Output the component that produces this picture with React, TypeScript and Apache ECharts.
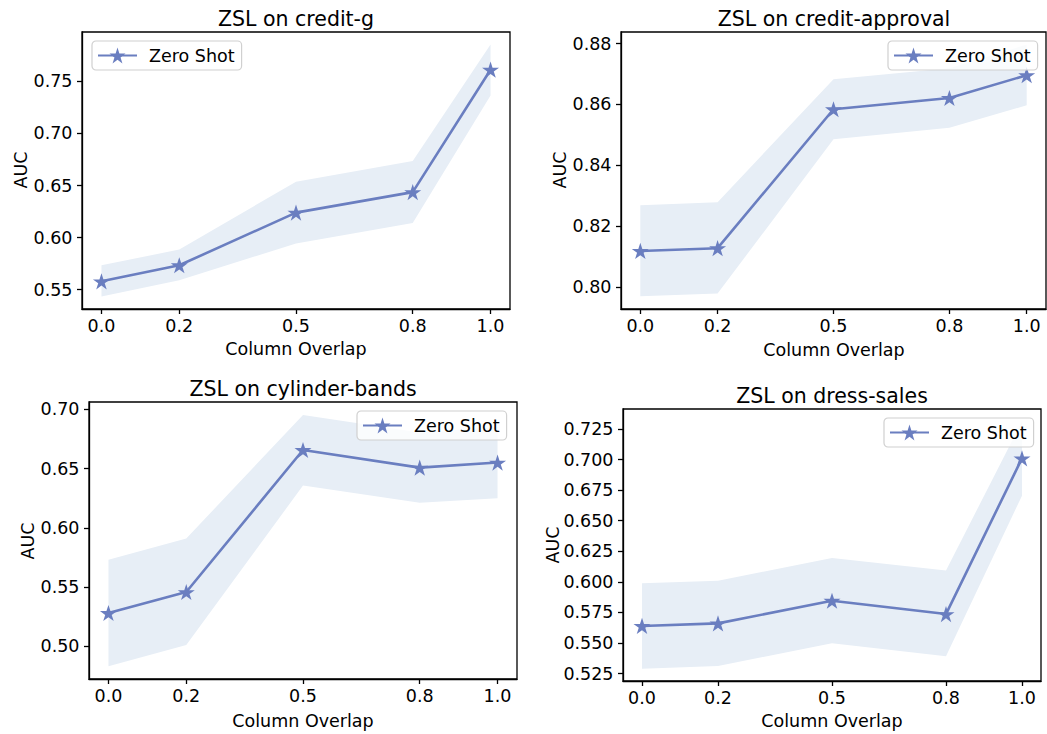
import React, { useEffect, useRef } from "react";
import * as echarts from "echarts";

// ---------- data ----------
const X_VALUES = [0.0, 0.2, 0.5, 0.8, 1.0];
const X_TICKS = [0.0, 0.2, 0.5, 0.8, 1.0];
const SERIES_NAME = "Zero Shot";
const X_LABEL = "Column Overlap";
const Y_LABEL = "AUC";
const TITLES = [
  "ZSL on credit-g",
  "ZSL on credit-approval",
  "ZSL on cylinder-bands",
  "ZSL on dress-sales",
];

const CREDIT_G_MEAN = [0.558, 0.5734, 0.624, 0.6437, 0.7613];
const CREDIT_G_LOWER = [0.5435, 0.559, 0.5943, 0.6139, 0.7366];
const CREDIT_G_UPPER = [0.5734, 0.5885, 0.6537, 0.6736, 0.7854];
const CREDIT_G_Y_TICKS = [0.55, 0.6, 0.65, 0.7, 0.75];
const CREDIT_G_Y_RANGE = [0.5314, 0.7975];

const CREDIT_APPROVAL_MEAN = [0.8118, 0.8127, 0.8584, 0.8621, 0.8696];
const CREDIT_APPROVAL_LOWER = [0.7969, 0.7978, 0.8485, 0.8523, 0.8597];
const CREDIT_APPROVAL_UPPER = [0.8268, 0.8278, 0.8683, 0.8719, 0.8797];
const CREDIT_APPROVAL_Y_TICKS = [0.8, 0.82, 0.84, 0.86, 0.88];
const CREDIT_APPROVAL_Y_RANGE = [0.7927, 0.8838];

const CYLINDER_BANDS_MEAN = [0.5281, 0.5458, 0.6657, 0.6508, 0.6551];
const CYLINDER_BANDS_LOWER = [0.4831, 0.5011, 0.6357, 0.6211, 0.625];
const CYLINDER_BANDS_UPPER = [0.573, 0.591, 0.6952, 0.6805, 0.6851];
const CYLINDER_BANDS_Y_TICKS = [0.5, 0.55, 0.6, 0.65, 0.7];
const CYLINDER_BANDS_Y_RANGE = [0.4724, 0.7062];

const DRESS_SALES_MEAN = [0.564, 0.5661, 0.5846, 0.5737, 0.701];
const DRESS_SALES_LOWER = [0.5291, 0.5313, 0.5498, 0.5392, 0.6705];
const DRESS_SALES_UPPER = [0.5988, 0.601, 0.6196, 0.6093, 0.7312];
const DRESS_SALES_Y_TICKS = [0.525, 0.55, 0.575, 0.6, 0.625, 0.65, 0.675, 0.7, 0.725];
const DRESS_SALES_Y_RANGE = [0.519, 0.7413];

const PANELS = [
  { mean: CREDIT_G_MEAN, lower: CREDIT_G_LOWER, upper: CREDIT_G_UPPER, yTicks: CREDIT_G_Y_TICKS, yRange: CREDIT_G_Y_RANGE, decimals: 2 },
  { mean: CREDIT_APPROVAL_MEAN, lower: CREDIT_APPROVAL_LOWER, upper: CREDIT_APPROVAL_UPPER, yTicks: CREDIT_APPROVAL_Y_TICKS, yRange: CREDIT_APPROVAL_Y_RANGE, decimals: 2 },
  { mean: CYLINDER_BANDS_MEAN, lower: CYLINDER_BANDS_LOWER, upper: CYLINDER_BANDS_UPPER, yTicks: CYLINDER_BANDS_Y_TICKS, yRange: CYLINDER_BANDS_Y_RANGE, decimals: 2 },
  { mean: DRESS_SALES_MEAN, lower: DRESS_SALES_LOWER, upper: DRESS_SALES_UPPER, yTicks: DRESS_SALES_Y_TICKS, yRange: DRESS_SALES_Y_RANGE, decimals: 3 },
];

// ---------- layout / style ----------
const LAYOUT = [
  { grid: { left: 82, top: 32, width: 428, height: 277 }, legend: { left: 92, top: 41 }, title: [296, 19], xName: [296, 348.5], yName: [21, 170] },
  { grid: { left: 621, top: 32, width: 425, height: 277 }, legend: { left: 888, top: 41 }, title: [834, 19], xName: [834, 349.5], yName: [560, 170] },
  { grid: { left: 89, top: 402, width: 428, height: 277 }, legend: { left: 357, top: 411 }, title: [303, 389], xName: [303, 720.5], yName: [28, 541] },
  { grid: { left: 623, top: 409, width: 418, height: 272 }, legend: { left: 884, top: 418 }, title: [832, 396], xName: [832, 720.5], yName: [552.5, 545] },
];

const X_RANGE = [-0.05, 1.05];
const LINE_COLOR = "#6a7ec0";
const BAND_COLOR = "#e7eef6";
const FONT = '"DejaVu Sans", "Liberation Sans", sans-serif';
const BASE_SIZE = 17.5;
const TITLE_SIZE = 20.5;
const STAR =
  "path://M0,-100L22.45,-30.9L95.11,-30.9L36.33,11.8L58.78,80.9L0,38.2L-58.78,80.9L-36.33,11.8L-95.11,-30.9L-22.45,-30.9Z";

function buildOption() {
  const grids: any[] = [];
  const xAxes: any[] = [];
  const yAxes: any[] = [];
  const series: any[] = [];
  const legends: any[] = [];
  const graphics: any[] = [];

  PANELS.forEach((p, i) => {
    const L = LAYOUT[i];
    grids.push({
      ...L.grid,
      show: true,
      borderColor: "#000",
      borderWidth: 1.3,
      backgroundColor: "transparent",
      containLabel: false,
    });
    xAxes.push({
      type: "value",
      gridIndex: i,
      min: X_RANGE[0],
      max: X_RANGE[1],
      axisLine: { show: true, onZero: false, lineStyle: { color: "#000", width: 1.3 } },
      axisTick: { show: true, inside: false, length: 5, lineStyle: { color: "#000", width: 1.3 }, customValues: X_TICKS },
      axisLabel: {
        show: true,
        margin: 8,
        color: "#000",
        fontFamily: FONT,
        fontSize: BASE_SIZE,
        customValues: X_TICKS,
        formatter: (v: number) => v.toFixed(1),
      },
      splitLine: { show: false },
    });
    yAxes.push({
      type: "value",
      gridIndex: i,
      min: p.yRange[0],
      max: p.yRange[1],
      axisLine: { show: true, onZero: false, lineStyle: { color: "#000", width: 1.3 } },
      axisTick: { show: true, inside: false, length: 5, lineStyle: { color: "#000", width: 1.3 }, customValues: p.yTicks },
      axisLabel: {
        show: true,
        margin: 9.5,
        color: "#000",
        fontFamily: FONT,
        fontSize: BASE_SIZE,
        customValues: p.yTicks,
        formatter: (v: number) => v.toFixed(p.decimals),
      },
      splitLine: { show: false },
    });

    const bandData = X_VALUES.map((x, k) => [x, p.lower[k], p.upper[k]]);
    series.push({
      type: "custom",
      name: "band" + i,
      xAxisIndex: i,
      yAxisIndex: i,
      z: 1,
      silent: true,
      encode: { x: 0, y: [1, 2] },
      data: bandData,
      renderItem: (params: any, api: any) => {
        if (params.dataIndex !== 0) return null;
        const pts: number[][] = [];
        for (let k = 0; k < X_VALUES.length; k++) pts.push(api.coord([X_VALUES[k], p.upper[k]]));
        for (let k = X_VALUES.length - 1; k >= 0; k--) pts.push(api.coord([X_VALUES[k], p.lower[k]]));
        return { type: "polygon", shape: { points: pts }, style: { fill: BAND_COLOR } };
      },
    });

    series.push({
      type: "line",
      name: SERIES_NAME,
      xAxisIndex: i,
      yAxisIndex: i,
      z: 3,
      data: X_VALUES.map((x, k) => [x, p.mean[k]]),
      symbol: STAR,
      symbolSize: 17,
      symbolKeepAspect: true,
      showSymbol: true,
      showAllSymbol: true,
      lineStyle: { color: LINE_COLOR, width: 2.6 },
      itemStyle: { color: LINE_COLOR, borderWidth: 0 },
      emphasis: { disabled: true },
    });

    legends.push({
      show: true,
      data: [SERIES_NAME],
      left: L.legend.left,
      top: L.legend.top,
      orient: "horizontal",
      itemWidth: 39,
      itemHeight: 20,
      padding: [5.5, 7, 5.5, 5],
      backgroundColor: "rgba(255,255,255,0.8)",
      borderColor: "#d0d0d0",
      borderWidth: 1.2,
      borderRadius: 4,
      selectedMode: false,
      textStyle: {
        color: "#000",
        fontFamily: FONT,
        fontSize: BASE_SIZE,
        padding: [0, 0, 0, 7],
      },
    });

    graphics.push({
      type: "text",
      x: L.title[0],
      y: L.title[1],
      style: {
        text: TITLES[i],
        fill: "#000",
        fontFamily: FONT,
        fontSize: TITLE_SIZE,
        align: "center",
        verticalAlign: "middle",
      },
    });
    graphics.push({
      type: "text",
      x: L.xName[0],
      y: L.xName[1],
      style: {
        text: X_LABEL,
        fill: "#000",
        fontFamily: FONT,
        fontSize: BASE_SIZE,
        align: "center",
        verticalAlign: "middle",
      },
    });
    graphics.push({
      type: "text",
      x: L.yName[0],
      y: L.yName[1],
      rotation: Math.PI / 2,
      style: {
        text: Y_LABEL,
        fill: "#000",
        fontFamily: FONT,
        fontSize: BASE_SIZE,
        align: "center",
        verticalAlign: "middle",
      },
    });
  });

  return {
    animation: false,
    backgroundColor: "#fff",
    textStyle: { fontFamily: FONT },
    grid: grids,
    xAxis: xAxes,
    yAxis: yAxes,
    legend: legends,
    series,
    graphic: graphics,
  };
}

export default function App() {
  const ref = useRef<HTMLDivElement>(null);
  useEffect(() => {
    document.body.style.margin = "0";
    if (!ref.current) return;
    const chart = echarts.init(ref.current, undefined, { renderer: "svg" });
    chart.setOption(buildOption() as any);
    return () => chart.dispose();
  }, []);
  return <div ref={ref} style={{ width: 1047, height: 734 }} />;
}
